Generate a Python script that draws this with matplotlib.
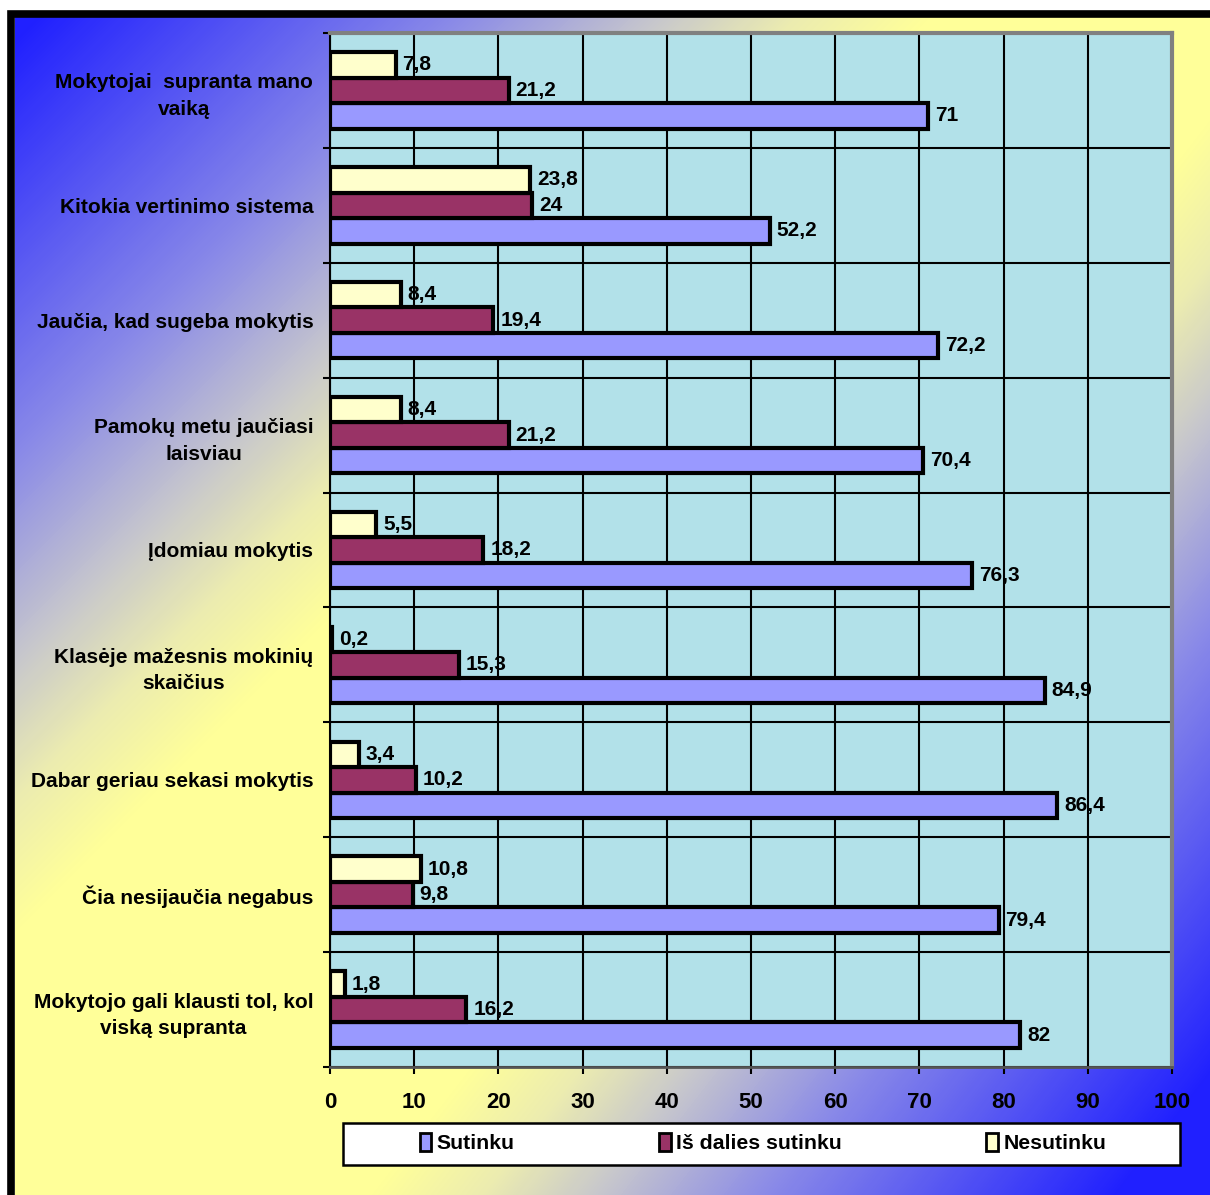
import numpy as np
import matplotlib.pyplot as plt
from matplotlib.colors import LinearSegmentedColormap
from matplotlib.patches import Rectangle, Patch

# data (top to bottom)
categories = [
    "Mokytojai  supranta mano\nvaiką",
    "Kitokia vertinimo sistema",
    "Jaučia, kad sugeba mokytis",
    "Pamokų metu jaučiasi\nlaisviau",
    "Įdomiau mokytis",
    "Klasėje mažesnis mokinių\nskaičius",
    "Dabar geriau sekasi mokytis",
    "Čia nesijaučia negabus",
    "Mokytojo gali klausti tol, kol\nviską supranta",
]
sutinku = [71, 52.2, 72.2, 70.4, 76.3, 84.9, 86.4, 79.4, 82]
is_dalies = [21.2, 24, 19.4, 21.2, 18.2, 15.3, 10.2, 9.8, 16.2]
nesutinku = [7.8, 23.8, 8.4, 8.4, 5.5, 0.2, 3.4, 10.8, 1.8]
series_names = ["Sutinku", "Iš dalies sutinku", "Nesutinku"]
series_colors = ["#9999ff", "#993366", "#ffffcc"]
xticks = list(range(0, 101, 10))

plt.rcParams['font.family'] = ['Liberation Sans', 'DejaVu Sans']
plt.rcParams['font.weight'] = 'bold'

W, H = 1210, 1195
fig = plt.figure(figsize=(W / 100, H / 100), dpi=100)

# background: blue in top-left and bottom-right corners, yellow band between
bg = fig.add_axes([15 / W, 0, 1 - 15 / W, 1 - 17 / H], zorder=-10)
px = np.arange(15, W)
py = np.arange(17, H)
X, Y = np.meshgrid(px, py)
a = np.clip((950 - (X + Y)) / 900, 0, 1)
b = np.clip(((X + 0.78 * Y) - 1300) / 750, 0, 1)
d = np.maximum(a, b)
cmap = LinearSegmentedColormap.from_list("bg", [
    (0.0, "#ffff99"), (0.15, "#ececb0"), (0.3, "#c8c8cc"),
    (0.53, "#8a8ae8"), (1.0, "#2020ff")])
bg.imshow(d, cmap=cmap, vmin=0, vmax=1, aspect='auto', origin='upper',
          interpolation='bilinear')
bg.set_axis_off()

# black outer frame (cropped at right and bottom)
fig.patches.append(Rectangle((11 / W, -0.1), 1.2, 1.1 - 13.5 / H,
                             transform=fig.transFigure, fill=False,
                             edgecolor='black', linewidth=5.5, zorder=5))

ax = fig.add_axes([330 / W, 1 - 1067 / H, (1172 - 330) / W, (1067 - 33) / H])
ax.set_facecolor("#b2e1e9")

n = len(categories)
y = np.arange(n)
h = 0.222
offsets = [h, 0, -h]
for vals, off, col in zip([sutinku, is_dalies, nesutinku], offsets, series_colors):
    bars = ax.barh(y + off, vals, height=h, color=col, edgecolor='black',
                   linewidth=3, zorder=3)
    for bar, val in zip(bars, vals):
        txt = f"{val:g}".replace('.', ',')
        ax.annotate(txt, (bar.get_width(), bar.get_y() + bar.get_height() / 2),
                    xytext=(5, 0), textcoords='offset points', va='center',
                    ha='left', fontsize=15, fontweight='bold', zorder=4)

ax.set_xlim(0, 100)
ax.set_ylim(n - 0.5, -0.5)
ax.set_xticks(xticks)
ax.set_xticklabels([str(t) for t in xticks], fontsize=16, fontweight='bold')
ax.set_yticks(np.arange(n + 1) - 0.5)
ax.set_yticklabels([])
ax.set_yticks(y, minor=True)
ax.set_yticklabels(categories, minor=True, fontsize=15, fontweight='bold',
                   multialignment='center', linespacing=1.5)
ax.tick_params(axis='y', which='minor', length=0, pad=12)
ax.tick_params(axis='y', which='major', length=5, width=1.5, direction='out')
ax.tick_params(axis='x', length=5, width=1.5, direction='out', pad=13)

ax.grid(True, which='major', color='black', linewidth=1.5, zorder=1)
ax.set_axisbelow(True)

for s in ['top', 'right']:
    ax.spines[s].set_color('#808080')
    ax.spines[s].set_linewidth(3)
ax.spines['left'].set_color('black')
ax.spines['left'].set_linewidth(1.5)
ax.spines['bottom'].set_color('#555555')
ax.spines['bottom'].set_linewidth(2)

# legend box
fig.patches.append(Rectangle((343 / W, 1 - 1165 / H), (1180 - 343) / W, 42 / H,
                             transform=fig.transFigure, facecolor='white',
                             edgecolor='black', linewidth=1.8, zorder=6))
handles = [Patch(facecolor=c, edgecolor='black', linewidth=2) for c in series_colors]
leg = fig.legend(handles, series_names, loc='center', ncol=3,
                 bbox_to_anchor=(763 / W, 1 - 1143 / H), frameon=False,
                 prop={'size': 15.3, 'weight': 'bold'}, handlelength=0.55,
                 handleheight=0.9, handletextpad=0.25, columnspacing=6.8)
leg.set_zorder(7)

fig.savefig("out.png", dpi=100)
